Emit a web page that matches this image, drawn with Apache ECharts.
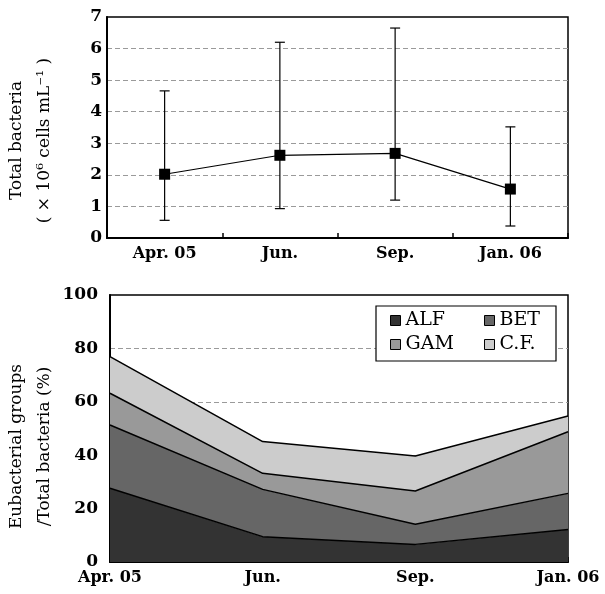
<!DOCTYPE html>
<html>
<head>
<meta charset="utf-8">
<script src="https://cdn.jsdelivr.net/npm/echarts@6/dist/echarts.min.js"></script>
<style>
  html, body { margin: 0; padding: 0; background: #fff; }
  #chart { width: 605px; height: 594px; }
</style>
</head>
<body>
<div id="chart"></div>
<script>
// sampling months
const months = ['Apr. 05', 'Jun.', 'Sep.', 'Jan. 06']
// total bacteria (x10^6 cells/mL): mean, error bar low / high
const totalMean = [2.02, 2.62, 2.68, 1.55]
const totalLow = [0.56, 0.93, 1.2, 0.38]
const totalHigh = [4.66, 6.2, 6.65, 3.52]
// eubacterial groups / total bacteria (%)
const alf = [27.6, 9.5, 6.6, 12.2]
const bet = [23.7, 17.7, 7.5, 13.5]
const gam = [11.9, 6.0, 12.5, 23.1]
const cf = [13.7, 11.9, 13.1, 5.9]
const groupNames = ['ALF', 'BET', 'GAM', 'C.F.']
const groupColors = ['#333333', '#666666', '#999999', '#cccccc']

const font = 'DejaVu Serif'
const myChart = echarts.init(document.getElementById('chart'))

const dashed = { show: true, showMinLine: false, showMaxLine: false, lineStyle: { color: '#9a9a9a', type: [5, 3], width: 1 } }
const axisLine = { show: true, lineStyle: { color: '#000', width: 2 } }
const boldLabel = size => ({ color: '#000', fontFamily: font, fontWeight: 'bold', fontSize: size })

const errorData = months.map((m, i) => [i, totalLow[i], totalHigh[i]])

const areaSeries = [alf, bet, gam, cf].map((vals, i) => ({
  name: groupNames[i],
  type: 'line',
  xAxisIndex: 1,
  yAxisIndex: 1,
  stack: 'groups',
  symbol: 'none',
  data: vals,
  itemStyle: { color: groupColors[i] },
  lineStyle: { color: '#000', width: 1.5 },
  areaStyle: { color: groupColors[i], opacity: 1 }
}))

const legendBase = {
  orient: 'vertical',
  icon: 'rect',
  itemWidth: 10,
  itemHeight: 10,
  itemGap: 5,
  padding: 0,
  selectedMode: false,
  itemStyle: { borderColor: '#000', borderWidth: 1 },
  textStyle: { fontFamily: font, fontSize: 19, color: '#000' }
}

const option = {
  animation: false,
  backgroundColor: '#fff',
  grid: [
    { left: 107, top: 17, width: 461, height: 221, show: true, borderColor: '#000', borderWidth: 1.5, containLabel: false, outerBoundsMode: 'none' },
    { left: 110, top: 295, width: 458, height: 267, show: true, borderColor: '#000', borderWidth: 1.5, containLabel: false, outerBoundsMode: 'none' }
  ],
  legend: [
    Object.assign({}, legendBase, { data: ['ALF', 'GAM'], left: 390, top: 311 }),
    Object.assign({}, legendBase, { data: ['BET', 'C.F.'], left: 484, top: 311 })
  ],
  graphic: [{
    type: 'rect',
    z: 3,
    shape: { x: 376, y: 306, width: 180, height: 55 },
    style: { fill: '#fff', stroke: '#000', lineWidth: 1.2 }
  }],
  xAxis: [
    {
      gridIndex: 0,
      type: 'category',
      data: months,
      boundaryGap: true,
      axisLine,
      axisTick: { show: true, inside: true, length: 5, lineStyle: { color: '#000', width: 1.5 } },
      axisLabel: Object.assign(boldLabel(16), { margin: 8 })
    },
    {
      gridIndex: 1,
      type: 'category',
      data: months,
      boundaryGap: false,
      axisLine,
      axisTick: { show: true, inside: true, length: 5, lineStyle: { color: '#000', width: 1.5 } },
      axisLabel: Object.assign(boldLabel(16), { margin: 8 })
    }
  ],
  yAxis: [
    {
      gridIndex: 0,
      type: 'value',
      min: 0,
      max: 7,
      interval: 1,
      axisLine,
      axisTick: { show: false },
      splitLine: dashed,
      axisLabel: Object.assign(boldLabel(17), { margin: 5 }),
      name: 'Total bacteria\n( × 10⁶ cells mL⁻¹ )',
      nameLocation: 'middle',
      nameRotate: 90,
      nameGap: 48,
      nameMoveOverlap: false,
      nameTextStyle: { fontFamily: font, fontSize: 17, color: '#000', lineHeight: 28, padding: [0, 26, 0, 0] }
    },
    {
      gridIndex: 1,
      type: 'value',
      min: 0,
      max: 100,
      interval: 20,
      axisLine,
      axisTick: { show: false },
      splitLine: dashed,
      axisLabel: Object.assign(boldLabel(17), { margin: 12 }),
      name: 'Eubacterial groups\n/Total bacteria (%)',
      nameLocation: 'middle',
      nameRotate: 90,
      nameGap: 51,
      nameMoveOverlap: false,
      nameTextStyle: { fontFamily: font, fontSize: 17, color: '#000', lineHeight: 28, padding: [0, 36, 0, 0] }
    }
  ],
  series: [
    {
      type: 'custom',
      xAxisIndex: 0,
      yAxisIndex: 0,
      z: 3,
      data: errorData,
      encode: { x: 0, y: [1, 2] },
      renderItem: function(params, api) {
        const i = api.value(0)
        const lo = api.coord([i, api.value(1)])
        const hi = api.coord([i, api.value(2)])
        const half = 5
        const style = { stroke: '#000', lineWidth: 1.2 }
        return {
          type: 'group',
          children: [
            { type: 'line', shape: { x1: lo[0], y1: lo[1], x2: hi[0], y2: hi[1] }, style },
            { type: 'line', shape: { x1: lo[0] - half, y1: lo[1], x2: lo[0] + half, y2: lo[1] }, style },
            { type: 'line', shape: { x1: hi[0] - half, y1: hi[1], x2: hi[0] + half, y2: hi[1] }, style }
          ]
        }
      }
    },
    {
      type: 'line',
      xAxisIndex: 0,
      yAxisIndex: 0,
      z: 4,
      data: totalMean,
      symbol: 'rect',
      symbolSize: 11,
      itemStyle: { color: '#000' },
      lineStyle: { color: '#000', width: 1.2 }
    }
  ].concat(areaSeries)
}

myChart.setOption(option)
</script>
</body>
</html>
